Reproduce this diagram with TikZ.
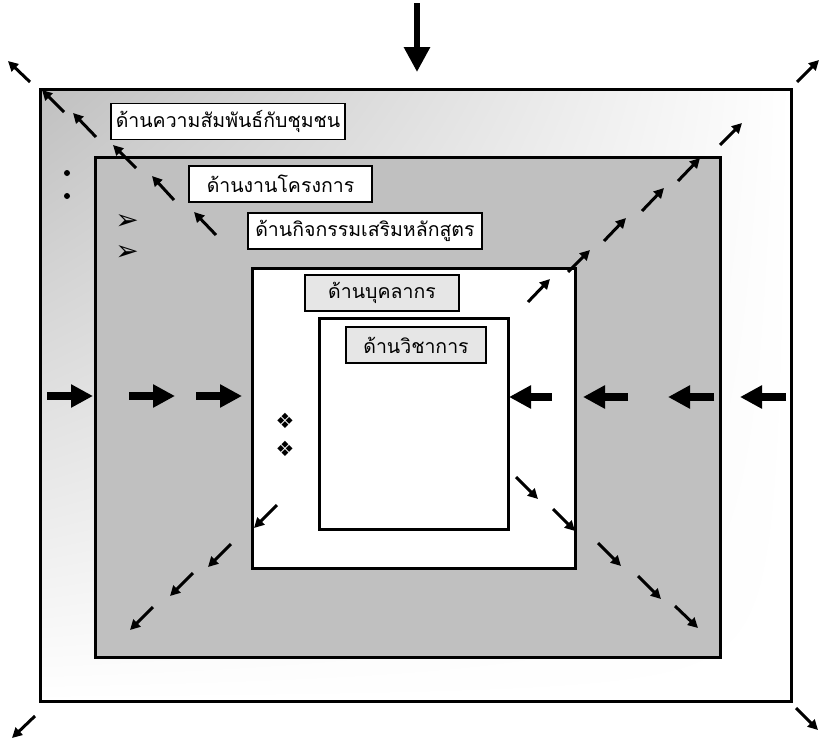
\documentclass[tikz,border=0pt]{standalone}
\usepackage{fontspec}
\newfontfamily\thaifont[Script=Thai]{Loma}
\newfontfamily\symfont{DejaVu Sans}
\usetikzlibrary{arrows.meta,shadings}
\definecolor{panelgray}{HTML}{C0C0C0}
\definecolor{tabgray}{HTML}{E6E6E6}

\begin{document}
\begin{tikzpicture}[x=1pt,y=-1pt,
        frame/.style={draw,line width=3pt},
        aspect/.style={draw,line width=1.2pt,fill=white,inner sep=0pt,
            minimum height=36pt,font=\thaifont\fontsize{19.5}{22}\selectfont},
        bullet/.style={inner sep=0pt,font=\symfont\fontsize{28}{28}\selectfont},
        thin arrow/.style={-{Triangle[length=10pt,width=10pt]},line width=3pt},
        block arrow/.style={-{Triangle[length=22pt,width=22pt]},line width=8pt}]

  \useasboundingbox (0,0) rectangle (820,739);

  \shade[upper left=panelgray,upper right=white,lower left=white,lower right=white]
        (40,89) rectangle (791,701);
  \draw[frame] (40,89) rectangle (791,701);
  \draw[frame,fill=panelgray] (95,157) rectangle (720,657);
  \draw[frame,fill=white] (252,268) rectangle (575,568);
  \draw[frame,fill=white] (319,318) rectangle (508,529);

  \node[aspect,minimum width=234pt] (community) at (228,121.5) {ด้านความสัมพันธ์กับชุมชน};
  \node[aspect,minimum width=183pt] (project) at (280.5,184) {ด้านงานโครงการ};
  \node[aspect,minimum width=234pt] (activity) at (365,231) {ด้านกิจกรรมเสริมหลักสูตร};
  \node[aspect,fill=tabgray,minimum width=154pt] (staff) at (382,293) {ด้านบุคลากร};
  \node[aspect,fill=tabgray,minimum width=140pt] (academic) at (416,345) {ด้านวิชาการ};

  \foreach \y in {173,196}
    \fill (67,\y) circle (3pt);
  \foreach \y in {222,253}
    \node[bullet] at (127,\y) {➢};
  \foreach \y in {421,449}
    \node[bullet,font=\symfont\fontsize{21}{21}\selectfont] at (285,\y) {❖};

  \draw[-{Triangle[length=25pt,width=25pt]},line width=6pt] (417,3) -- (417,72);

  \foreach \xa/\xb in {47/93,129/175,196/242}
    \draw[block arrow] (\xa,396) -- (\xb,396);
  \foreach \xa/\xb in {552/509,628/583,714/668,786/740}
    \draw[block arrow] (\xa,397) -- (\xb,397);

  \foreach \xa/\ya/\xb/\yb in {30/82/8/61,64/112/42/90,96/137/73/113,136/168/113/145,
      174/200/152/176,216/235/194/212}
    \draw[thin arrow] (\xa,\ya) -- (\xb,\yb);
  \foreach \xa/\ya/\xb/\yb in {797/82/819/60,720/145/742/123,678/181/700/158,
      642/211/664/188,604/241/626/218,568/272/590/250,528/302/550/279}
    \draw[thin arrow] (\xa,\ya) -- (\xb,\yb);
  \foreach \xa/\ya/\xb/\yb in {277/505/254/528,231/544/208/567,193/573/170/596,
      153/607/130/630,35/716/12/738}
    \draw[thin arrow] (\xa,\ya) -- (\xb,\yb);
  \foreach \xa/\ya/\xb/\yb in {516/477/538/499,553/509/575/531,598/543/621/566,
      638/576/661/599,675/606/698/628,796/708/818/730}
    \draw[thin arrow] (\xa,\ya) -- (\xb,\yb);

\end{tikzpicture}
\end{document}
